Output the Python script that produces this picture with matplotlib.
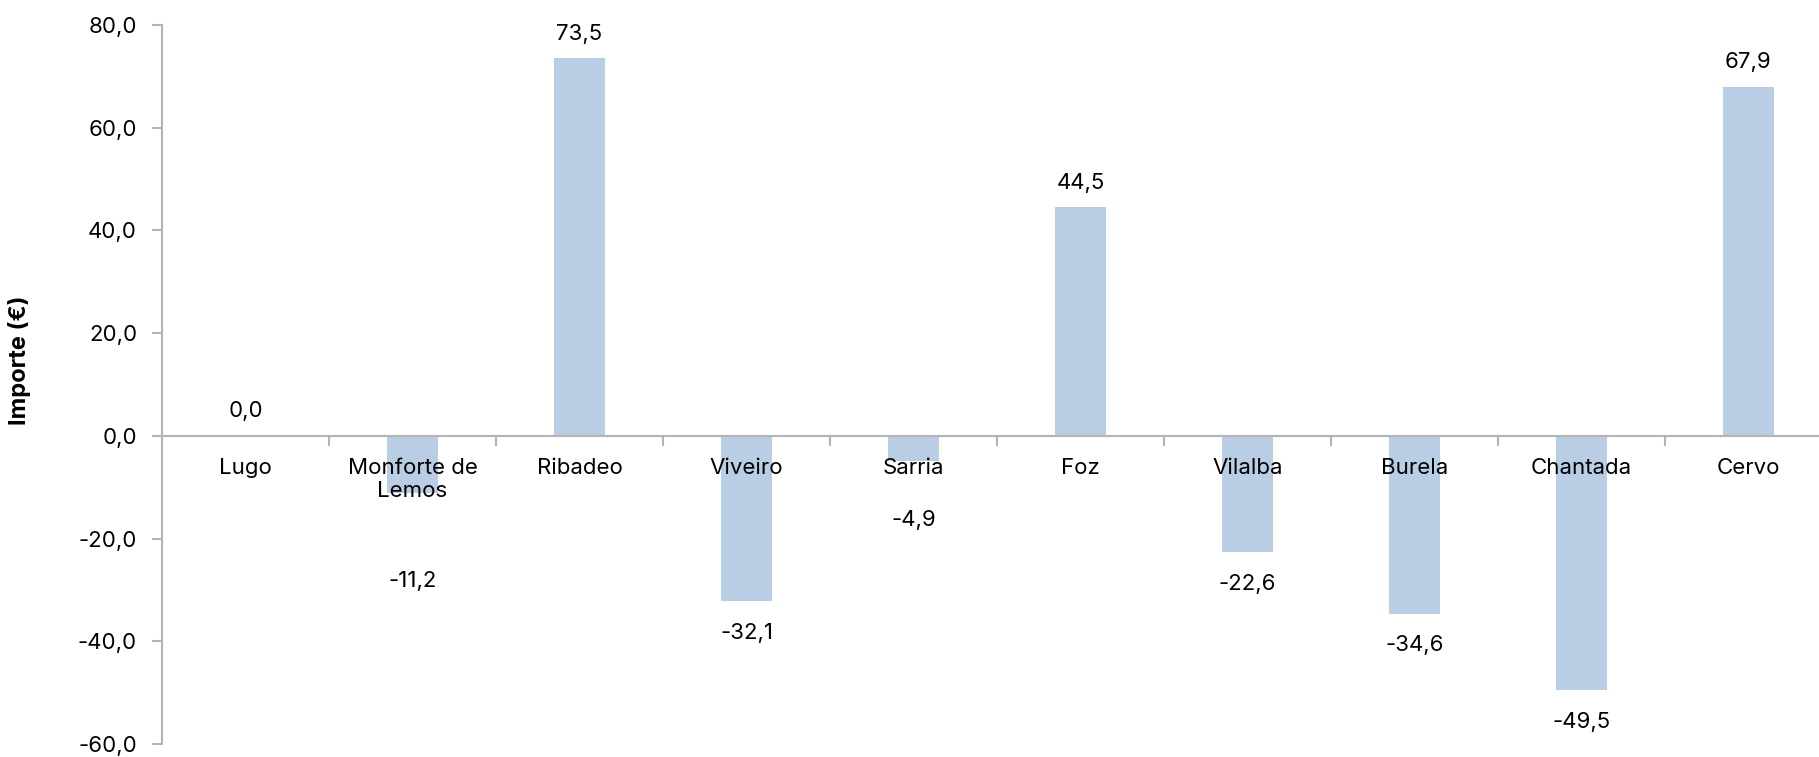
import numpy as np
import matplotlib.pyplot as plt
from matplotlib.ticker import FuncFormatter

# data
cities = ["Lugo", "Monforte de\nLemos", "Ribadeo", "Viveiro", "Sarria",
          "Foz", "Vilalba", "Burela", "Chantada", "Cervo"]
importe = [0.0, -11.2, 73.5, -32.1, -4.9, 44.5, -22.6, -34.6, -49.5, 67.9]

plt.rcParams["font.family"] = ["Inter", "DejaVu Sans"]
FS = 16

W, H = 1819, 757
fig = plt.figure(figsize=(W / 100, H / 100), dpi=100)
# axes spans beyond the right edge, as in the original (cropped)
ax = fig.add_axes([162 / W, 13 / H, 1670 / W, 719 / H])

x = np.arange(len(cities))
ax.bar(x, importe, width=0.31, color="#B9CDE5", zorder=0.8)

ax.set_xlim(-0.5, len(cities) - 0.5)
ax.set_ylim(-60, 80)
ax.set_yticks(np.arange(-60, 81, 20))
ax.yaxis.set_major_formatter(FuncFormatter(lambda v, p: f"{v:.1f}".replace(".", ",")))

ax.set_xticks(x)
ax.set_xticklabels(cities, linespacing=1.5)
ax.set_xticks(np.arange(0.5, len(cities) - 0.5, 1), minor=True)
ax.tick_params(axis="x", which="major", length=0, pad=16, labelsize=FS)
ax.tick_params(axis="x", which="minor", length=7, width=1.5, color="#B4B4B4", direction="out")
ax.tick_params(axis="y", length=7, width=1.5, color="#B4B4B4", pad=11, labelsize=FS)

for s in ["top", "right"]:
    ax.spines[s].set_visible(False)
ax.spines["bottom"].set_position(("data", 0))
for s in ["left", "bottom"]:
    ax.spines[s].set_color("#B4B4B4")
    ax.spines[s].set_linewidth(1.5)

ax.set_ylabel("Importe (€)", fontsize=FS + 1, fontweight="bold")
ax.yaxis.set_label_coords(-(162 - 31) / 1670, (757 - 360 - 13) / 719)

# data labels, pushed below the category labels when the bar is short
for xi, v, name in zip(x, importe, cities):
    txt = f"{v:.1f}".replace(".", ",")
    if v >= 0:
        y = v + 4.8
    else:
        y = v - 6.2
        nlines = name.count("\n") + 1
        floor = -16.3 if nlines == 1 else -28.3
        if v > -20:
            y = min(y, floor)
    ax.text(xi, y, txt, ha="center", va="center", fontsize=FS)

fig.savefig("out.png", dpi=100)
